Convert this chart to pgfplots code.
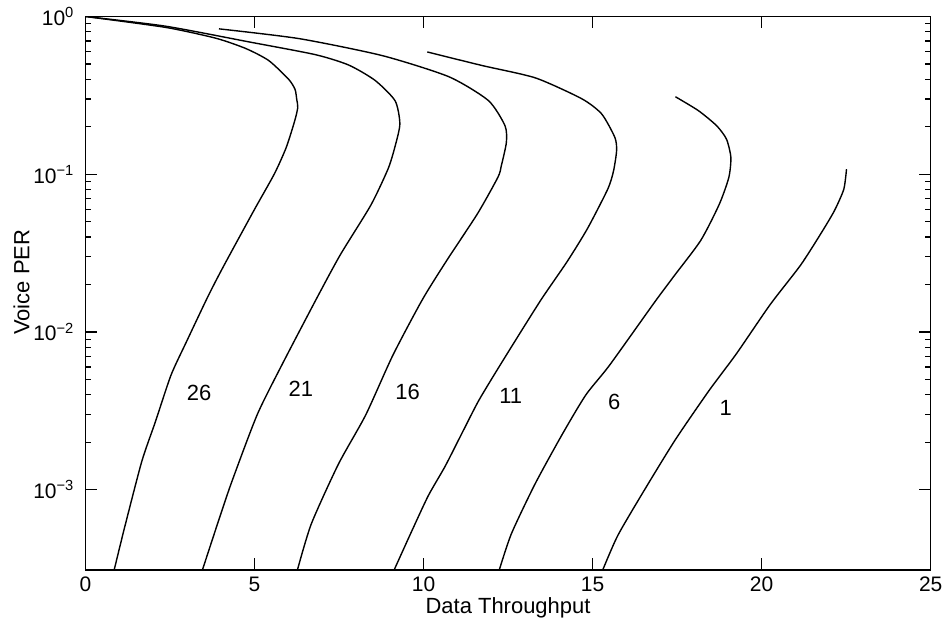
\documentclass[border=0pt]{standalone}
\usepackage{fontspec}
\setmainfont{Liberation Sans}
\usepackage{pgfplots}
\pgfplotsset{compat=1.18}

\begin{document}
\begin{tikzpicture}
\begin{axis}[
  scale only axis, width=423pt, height=277pt,
  xmin=0, xmax=25, ymode=log, ymin=3.1e-4, ymax=1,
  xtick={0,5,10,15,20,25},
  ytick={1e-3,1e-2,1e-1,1},
  yticklabels={10\textsuperscript{−3},10\textsuperscript{−2},10\textsuperscript{−1},10\textsuperscript{0}},
  xtick pos=both, ytick pos=both,
  tick align=inside,
  major tick length=6pt, minor tick length=3pt,
  axis line style={line width=0.6pt},
  every tick/.append style={black, line width=0.6pt},
  every major tick/.append style={black, line width=0.7pt},
  /pgf/number format/assume math mode=true,
  tick label style={font=\fontsize{10.5}{12}\selectfont},
  yticklabel style={xshift=-2pt},
  label style={font=\fontsize{11}{13}\selectfont},
  xlabel={Data Throughput}, ylabel={Voice PER},
  xlabel style={at={(axis description cs:0.5,-0.0794)}, anchor=base},
  ylabel style={at={(axis description cs:-0.0757,0.52)}, anchor=center},
  crv/.style={black, solid, line width=0.7pt, smooth, tension=0.4, mark=none},
  tk/.style={black, solid, line width=0.6pt, mark=none, forget plot},
]
% curve 26
\addplot[crv] coordinates {(0.85,3.1e-4) (1.157,5.75e-4) (1.666,1.51e-3) (2.07,2.7e-3) (2.53,5.32e-3) (2.98,8.6e-3) (3.63,0.0169) (4.085,0.0261) (4.99,0.0593) (5.59,0.1007) (5.94,0.148) (6.19,0.218) (6.28,0.265) (6.25,0.298) (6.2,0.345) (6.01,0.40) (5.42,0.526) (4.74,0.627) (3.85,0.729) (2.37,0.853) (0,1)};
% curve 21
\addplot[crv] coordinates {(3.46,3.1e-4) (3.92,6.2e-4) (4.32,1.11e-3) (5.08,2.99e-3) (5.83,6.3e-3) (6.85,0.0165) (7.54,0.0309) (8.44,0.0636) (8.95,0.108) (9.15,0.148) (9.30,0.208) (9.16,0.292) (8.57,0.393) (7.79,0.492) (6.80,0.573) (4.84,0.69) (2.37,0.868) (0,1)};
% curve 16
\addplot[crv] coordinates {(6.27,3.1e-4) (6.68,6.07e-4) (7.48,1.45e-3) (8.29,2.98e-3) (9.09,7.1e-3) (9.97,0.0161) (10.70,0.0287) (11.6,0.0564) (12.20,0.0957) (12.30,0.113) (12.45,0.159) (12.41,0.203) (11.92,0.293) (10.75,0.415) (8.78,0.565) (6.32,0.724) (3.95,0.835)};
% curve 11
\addplot[crv] coordinates {(9.13,3.1e-4) (9.64,5.4e-4) (10.14,9.16e-4) (10.64,1.41e-3) (11.14,2.29e-3) (11.64,3.7e-3) (12.35,6.6e-3) (13.45,0.0157) (14.25,0.028) (14.85,0.0453) (15.45,0.0806) (15.62,0.105) (15.71,0.141) (15.66,0.171) (15.27,0.241) (14.68,0.301) (13.31,0.408) (11.73,0.489) (10.11,0.596)};
% curve 6
\addplot[crv] coordinates {(12.24,3.1e-4) (12.6,5.27e-4) (13.3,1.09e-3) (14.1,2.24e-3) (14.8,3.99e-3) (15.5,6.15e-3) (16.82,0.0153) (17.4,0.0225) (18.2,0.0381) (18.75,0.0647) (19.03,0.0955) (19.09,0.128) (18.96,0.167) (18.67,0.203) (18.13,0.253) (17.45,0.31)};
% curve 1
\addplot[crv] coordinates {(15.3,3.1e-4) (15.75,5.15e-4) (16.55,1.01e-3) (17.45,2.08e-3) (18.45,4.27e-3) (19.25,7.26e-3) (20.25,0.0149) (21.15,0.0265) (21.75,0.042) (22.15,0.0586) (22.43,0.0803) (22.51,0.1076)};
% x ticks (bottom and top)
\addplot[tk] coordinates {(5,3.1e-4) (5,3.65e-4)};
\addplot[tk] coordinates {(10,3.1e-4) (10,3.65e-4)};
\addplot[tk] coordinates {(15,3.1e-4) (15,3.65e-4)};
\addplot[tk] coordinates {(20,3.1e-4) (20,3.65e-4)};
\addplot[tk] coordinates {(5,1) (5,0.85)};
\addplot[tk] coordinates {(10,1) (10,0.85)};
\addplot[tk] coordinates {(15,1) (15,0.85)};
\addplot[tk] coordinates {(20,1) (20,0.85)};
\node[font=\fontsize{11}{13}\selectfont] at (axis cs:3.36,0.00413) {26};
\node[font=\fontsize{11}{13}\selectfont] at (axis cs:6.37,0.00435) {21};
\node[font=\fontsize{11}{13}\selectfont] at (axis cs:9.53,0.00419) {16};
\node[font=\fontsize{11}{13}\selectfont] at (axis cs:12.58,0.00396) {11};
\node[font=\fontsize{11}{13}\selectfont] at (axis cs:15.64,0.0036) {6};
\node[font=\fontsize{11}{13}\selectfont] at (axis cs:18.94,0.00331) {1};
\end{axis}
\path ([shift={(-42.75pt,-25.5pt)}]current axis.south west) rectangle ([shift={(8.5pt,8.25pt)}]current axis.north east);
\end{tikzpicture}
\end{document}
